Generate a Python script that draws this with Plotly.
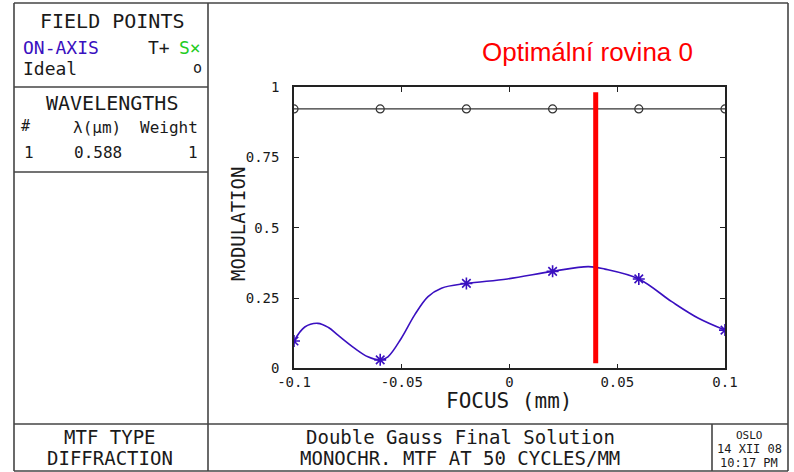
import plotly.graph_objects as go

W, H = 794, 472

# ---- data ----
focus = [-0.1, -0.06, -0.02, 0.02, 0.06, 0.1]
mtf_on_axis = [0.097, 0.030, 0.302, 0.345, 0.318, 0.136]
mtf_ideal = [0.923, 0.923, 0.923, 0.923, 0.923, 0.923]

# curve
curve_focus = [-0.1, -0.095, -0.0889, -0.084, -0.0796, -0.0718, -0.0657, -0.06,
               -0.0564, -0.0502, -0.044, -0.0378, -0.0316, -0.02, -0.001, 0.02,
               0.0366, 0.0443, 0.06, 0.0753, 0.0877, 0.1]
curve_mtf = [0.097, 0.147, 0.160, 0.145, 0.118, 0.071, 0.041, 0.030,
             0.041, 0.107, 0.190, 0.255, 0.285, 0.302, 0.318, 0.345,
             0.362, 0.353, 0.318, 0.237, 0.178, 0.136]

optimal_focus = 0.04
optimal_span = [0.018, 0.982]

x_ticks = [-0.1, -0.05, 0, 0.05, 0.1]
x_tick_labels = ["-0.1", "-0.05", "0", "0.05", "0.1"]
y_ticks = [0, 0.25, 0.5, 0.75, 1]
y_tick_labels = ["0", "0.25", "0.5", "0.75", "1"]

BLUE = "#3a10c0"
GREEN = "#22cc22"
GREY = "#333333"
TEXT = "#1a1a1a"
FONT = "DejaVu Sans Mono"


def px(x):
    return x / W


def py(y):
    return 1 - y / H


fig = go.Figure()

fig.add_trace(go.Scatter(x=focus, y=mtf_ideal, mode="lines+markers",
                         line=dict(color=GREY, width=1.2),
                         marker=dict(symbol="circle-open", size=8, color=GREY,
                                     line=dict(width=1.2)),
                         showlegend=False))
fig.add_trace(go.Scatter(x=curve_focus, y=curve_mtf, mode="lines",
                         line=dict(color=BLUE, width=1.6, shape="spline", smoothing=1.0),
                         showlegend=False))
fig.add_trace(go.Scatter(x=focus, y=mtf_on_axis, mode="markers",
                         marker=dict(symbol="asterisk-open", size=10, color=BLUE,
                                     line=dict(width=1.6, color=BLUE)),
                         showlegend=False))
fig.add_trace(go.Scatter(x=[optimal_focus, optimal_focus], y=optimal_span, mode="lines",
                         line=dict(color="#ff0000", width=5), showlegend=False))

axis_common = dict(showgrid=False, zeroline=False, showline=True, linecolor="#222222",
                   linewidth=1.5, mirror="ticks", ticks="inside", ticklen=5,
                   tickcolor="#222222", tickwidth=1.2, automargin=False,
                   tickfont=dict(family=FONT, size=14, color=TEXT))

fig.update_layout(
    width=W, height=H, autosize=False,
    margin=dict(l=0, r=0, t=0, b=0, pad=0),
    paper_bgcolor="white", plot_bgcolor="white",
    xaxis=dict(domain=[px(294), px(725)], range=[-0.1, 0.1],
               tickvals=x_ticks, ticktext=x_tick_labels, **axis_common),
    yaxis=dict(domain=[py(368.3), py(87.3)], range=[0, 1],
               tickvals=y_ticks, ticktext=y_tick_labels, ticklabelstandoff=10,
               **axis_common),
)

# ---- frame lines ----
lines = [
    (14, 3, 788, 3), (14, 3, 14, 471), (788, 3, 788, 471), (14, 471, 788, 471),
    (208, 3, 208, 471), (14, 87, 208, 87), (14, 172, 208, 172),
    (14, 424, 788, 424), (712, 424, 712, 471),
]
for x0, y0, x1, y1 in lines:
    fig.add_shape(type="line", xref="paper", yref="paper",
                  x0=px(x0), y0=py(y0), x1=px(x1), y1=py(y1),
                  line=dict(color="#444444", width=1.6))


def txt(s, x, y, size=17, color=TEXT, anchor="center", family=FONT, angle=0):
    fig.add_annotation(text=s, xref="paper", yref="paper", x=px(x), y=py(y),
                       xanchor=anchor, yanchor="middle", showarrow=False,
                       textangle=angle,
                       font=dict(family=family, size=size, color=color))


# left panel
txt("FIELD POINTS", 112, 21, 20)
txt("ON-AXIS", 21, 48, 18, BLUE, "left")
txt("T+", 146, 48, 18, TEXT, "left")
txt("S×", 177, 48, 18, GREEN, "left")
txt("Ideal", 21, 69, 18, TEXT, "left")
txt("o", 197, 68, 15)
txt("WAVELENGTHS", 112, 103, 20)
txt("#", 25, 126, 15)
txt("λ(μm)", 97, 128, 16)
txt("Weight", 200, 128, 16, TEXT, "right")
txt("1", 29, 152, 16)
txt("0.588", 98, 152, 16)
txt("1", 200, 152, 16, TEXT, "right")

# plot labels
txt("Optimální rovina 0", 587, 52, 26, "#ff0000", family="Liberation Sans")
txt("MODULATION", 238, 224, 19, angle=-90)
txt("FOCUS (mm)", 509, 401, 21)

# bottom panel
txt("MTF TYPE", 110, 437, 19)
txt("DIFFRACTION", 110, 458, 19)
txt("Double Gauss Final Solution", 460, 437, 19)
txt("MONOCHR. MTF AT 50 CYCLES/MM", 460, 458, 19)
txt("OSLO", 749, 435, 11)
txt("14 XII 08", 749, 449, 12)
txt("10:17 PM", 749, 463, 12)

fig.write_html("out.html", config={"displayModeBar": False},
               post_script="document.body.style.margin='0';")
